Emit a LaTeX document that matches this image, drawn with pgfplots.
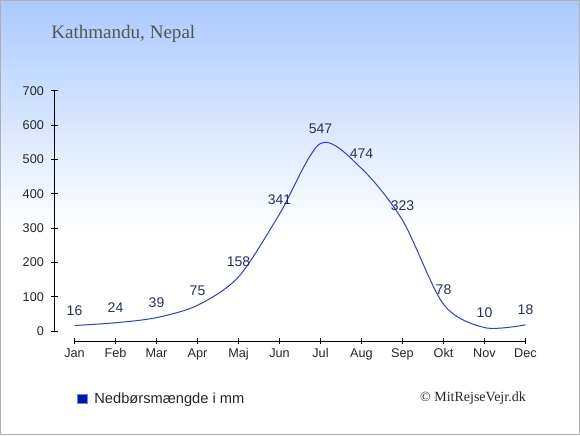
\documentclass[border=0pt]{standalone}
\usepackage{pgfplots}
\pgfplotsset{compat=1.18}
\usepackage{fontspec}
\setmainfont{Liberation Serif}
\setsansfont{Liberation Sans}
\newfontfamily\arial{Liberation Sans}
\definecolor{bgtop}{RGB}{170,202,255}
\definecolor{lineblue}{RGB}{50,62,195}
\definecolor{lblcol}{RGB}{38,52,82}
\definecolor{legblue}{RGB}{0,22,170}
\definecolor{titlegray}{RGB}{85,85,85}
\definecolor{bordergray}{RGB}{175,175,175}
\begin{document}
\begin{tikzpicture}[x=0.75pt,y=0.75pt]
\shade[top color=bgtop, bottom color=white] (0,205) rectangle (580,435);
\fill[white] (0,0) rectangle (580,205.5);
\draw[bordergray, line width=1.1pt] (0.75,0.75) rectangle (579.25,434.25);
\useasboundingbox (0,0) rectangle (580,435);
\node[anchor=base west, inner sep=0pt, text=titlegray, font=\fontsize{14.3}{17}\selectfont] at (51,396.7) {Kathmandu, Nepal};
\node[anchor=base east, inner sep=0pt, text=black!85, font=\fontsize{10.5}{12}\selectfont] at (526,33.3) {© MitRejseVejr.dk};
\begin{axis}[
  at={(40.875pt,78pt)}, anchor=south west,
  scale only axis, width=353.25pt, height=180pt,
  xmin=-0.488, xmax=11, ymin=0, ymax=700,
  axis x line=none, axis y line=left,
  axis line style={-, line width=0.75pt, black},
  ytick={0,100,...,700},
  tick align=center, major tick length=4.5pt,
  tick style={black, line width=0.75pt},
  /pgf/number format/assume math mode=true,
  yticklabel style={font=\arial\fontsize{9.5}{11}\selectfont, text=black!85, xshift=-2.2pt},
  clip=false,
  nodes near coords,
  every node near coord/.append style={font=\arial\fontsize{10.5}{12}\selectfont, text=lblcol, inner sep=0pt, anchor=south, yshift=7pt},
  legend style={draw=none, fill=none, at={(0.0478,-0.283)}, anchor=west, inner sep=0pt,
     font=\arial\fontsize{11}{13}\selectfont, text=black!85},
  legend cell align=left,
  legend image code/.code={\fill[legblue, draw=legblue!55, line width=0.5pt] (0pt,-3.6pt) rectangle (7.2pt,3.6pt); \path (10.2pt,0pt);},
]
\addplot[lineblue, line width=0.75pt, smooth, mark=none] coordinates {
 (0,16) (1,24) (2,39) (3,75) (4,158) (5,341) (6,547) (7,474) (8,323) (9,78) (10,10) (11,18)
};
\addlegendentry{Nedbørsmængde i mm}
\end{axis}
\begin{axis}[
  at={(55.875pt,70.5pt)}, anchor=south west,
  scale only axis, width=338.25pt, height=10pt,
  xmin=0, xmax=11, ymin=0, ymax=1,
  axis y line=none, axis x line=bottom,
  axis line style={-, line width=0.7pt, black},
  xtick={0,...,11},
  xticklabels={Jan,Feb,Mar,Apr,Maj,Jun,Jul,Aug,Sep,Okt,Nov,Dec},
  tick align=center, major tick length=4.5pt,
  tick style={black, line width=0.7pt},
  xticklabel style={font=\arial\fontsize{9.5}{11}\selectfont, text=black!85},
]
\addplot[draw=none, forget plot] coordinates {(0,0.5)};
\end{axis}
\end{tikzpicture}
\end{document}
